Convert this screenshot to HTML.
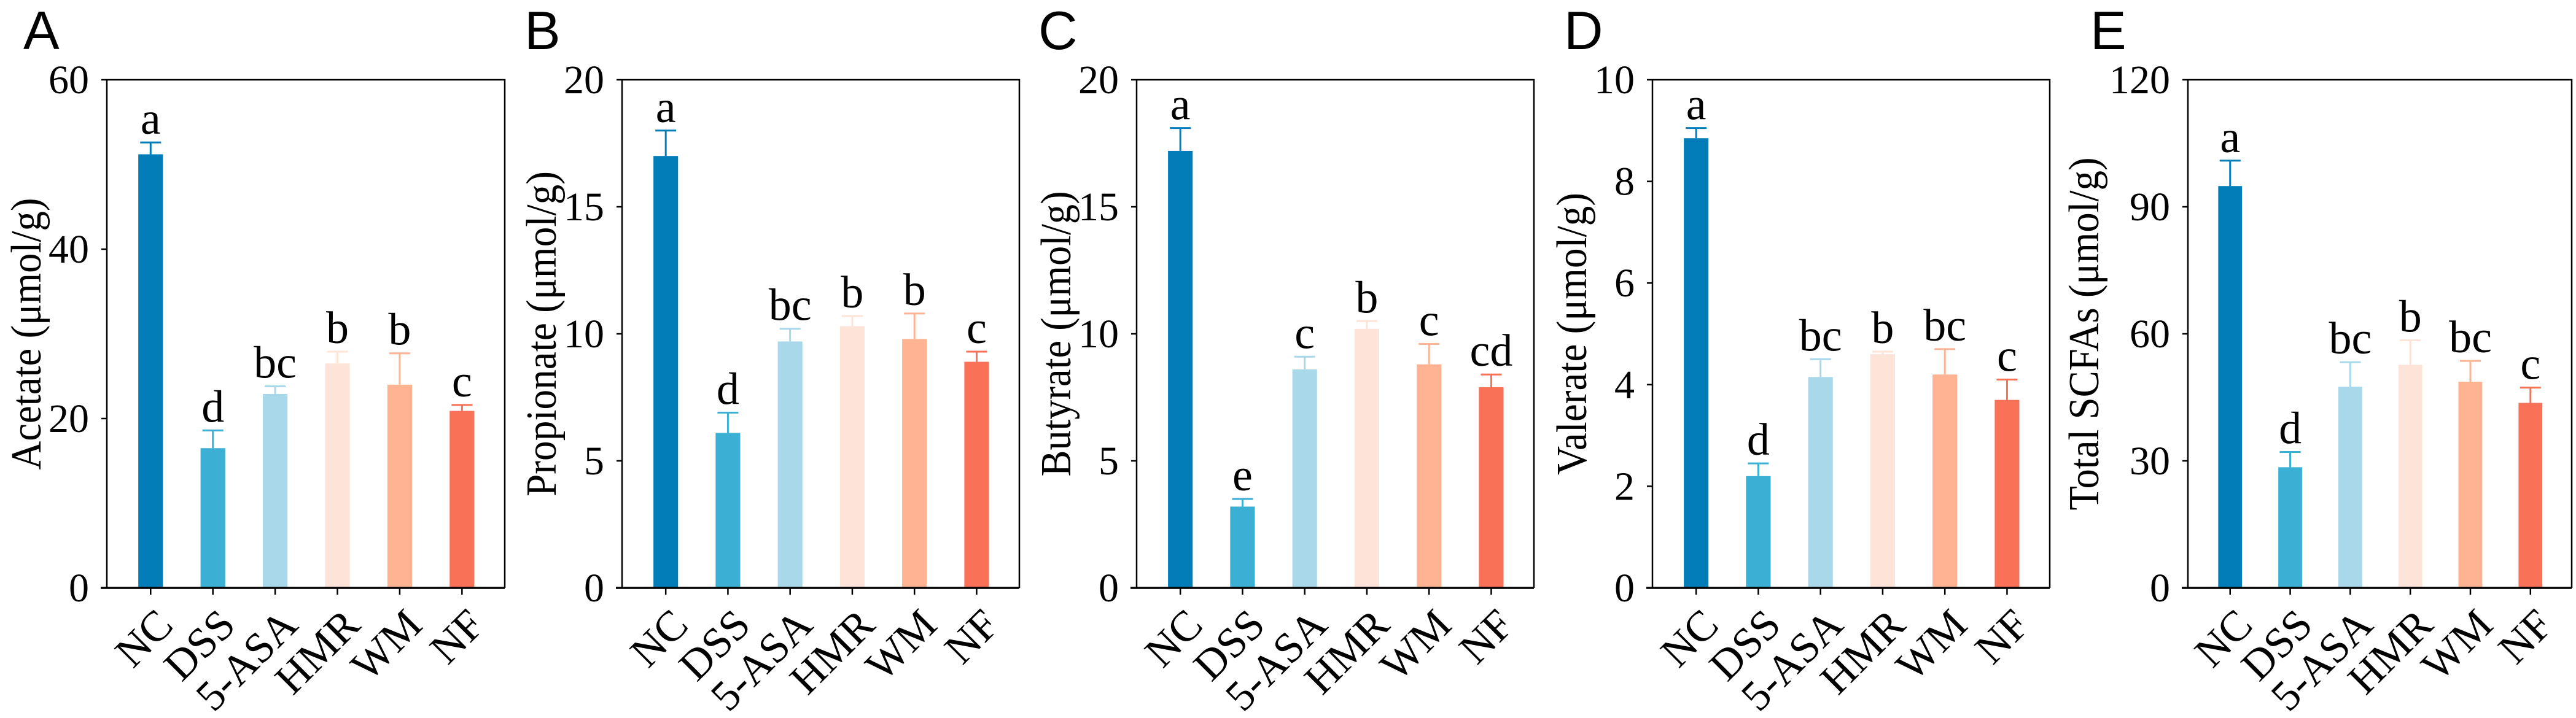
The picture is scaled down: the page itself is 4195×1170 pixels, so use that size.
<!DOCTYPE html>
<html><head><meta charset="utf-8"><style>
html,body{margin:0;padding:0;background:#fff;}
svg{display:block;}
</style></head><body>
<svg id="fig" width="4195" height="1170" viewBox="0 0 4195 1170" xmlns="http://www.w3.org/2000/svg"></svg>
<script>
const categories = ["NC","DSS","5-ASA","HMR","WM","NF"];
const colors = ["#027db8","#3cafd4","#a9d8ea","#fee3d8","#feb393","#f97156"];
const acetateVals = [51.2,16.5,22.9,26.5,24.0,20.9];
const acetateErr = [1.4,2.1,0.9,1.4,3.7,0.7];
const acetateLetters = ["a","d","bc","b","b","c"];
const propionateVals = [17.0,6.1,9.7,10.3,9.8,8.9];
const propionateErr = [1.0,0.8,0.5,0.4,1.0,0.4];
const propionateLetters = ["a","d","bc","b","b","c"];
const butyrateVals = [17.2,3.2,8.6,10.2,8.8,7.9];
const butyrateErr = [0.9,0.3,0.5,0.3,0.8,0.5];
const butyrateLetters = ["a","e","c","b","c","cd"];
const valerateVals = [8.85,2.2,4.15,4.6,4.2,3.7];
const valerateErr = [0.2,0.25,0.35,0.05,0.5,0.4];
const valerateLetters = ["a","d","bc","b","bc","c"];
const totalVals = [94.9,28.5,47.5,52.7,48.7,43.7];
const totalErr = [6.0,3.6,5.8,5.8,4.9,3.6];
const totalLetters = ["a","d","bc","b","bc","c"];
const acetateTicks = [0,20,40,60];
const propionateTicks = [0,5,10,15,20];
const butyrateTicks = [0,5,10,15,20];
const valerateTicks = [0,2,4,6,8,10];
const totalTicks = [0,30,60,90,120];

const panels = [
 {id:"a",letter:"A",left:174,right:822,title:"Acetate (μmol/g)",tl:443,vals:acetateVals,err:acetateErr,letters:acetateLetters,ticks:acetateTicks,lx:38,tx:43},
 {id:"b",letter:"B",left:1013,right:1660,title:"Propionate (μmol/g)",tl:530,vals:propionateVals,err:propionateErr,letters:propionateLetters,ticks:propionateTicks,lx:854,tx:882},
 {id:"c",letter:"C",left:1851,right:2498,title:"Butyrate (μmol/g)",tl:465,vals:butyrateVals,err:butyrateErr,letters:butyrateLetters,ticks:butyrateTicks,lx:1691,tx:1720},
 {id:"d",letter:"D",left:2691,right:3338,title:"Valerate (μmol/g)",tl:460,vals:valerateVals,err:valerateErr,letters:valerateLetters,ticks:valerateTicks,lx:2547,tx:2560},
 {id:"e",letter:"E",left:3563,right:4188,title:"Total SCFAs (μmol/g)",tl:575,vals:totalVals,err:totalErr,letters:totalLetters,ticks:totalTicks,lx:3404,tx:3394}
];
const TOP=130, BOT=958;
const NS="http://www.w3.org/2000/svg";
const svg=document.getElementById("fig");
function mk(tag,attrs,parent){const e=document.createElementNS(NS,tag);for(const k in attrs)e.setAttribute(k,attrs[k]);(parent||svg).appendChild(e);return e;}
const serif='"Liberation Serif", serif';
panels.forEach(p=>{
  const g=mk("g",{});
  
  
  const maxV=p.ticks[p.ticks.length-1];
  const y=v=>BOT-(v/maxV)*(BOT-TOP);
  const w=p.right-p.left;
  const x=i=>p.left+0.11*w+i*0.1565*w;
  const bw=w*0.062;
  const pl=mk("text",{x:p.lx,y:80,"font-family":'"Liberation Sans", sans-serif',"font-size":88},g);
  pl.textContent=p.letter;
  
  
  p.vals.forEach((v,i)=>{
    const c=colors[i];
    const r=mk("rect",{x:x(i)-bw/2,y:y(v),width:bw,height:BOT-y(v),fill:c},g);
    
    
    const et=y(v+p.err[i]);
    const eb=mk("path",{d:`M${x(i)} ${y(v)}V${et}M${x(i)-17} ${et}H${x(i)+17}`,stroke:c,"stroke-width":3,fill:"none"},g);
    
    
    const t=mk("text",{x:x(i),y:et-14,"text-anchor":"middle","font-family":serif,"font-size":74},g);
    t.textContent=p.letters[i];
    
    
    const tk=mk("line",{x1:x(i),x2:x(i),y1:BOT,y2:BOT+11,stroke:"#000","stroke-width":2.5},g);
    
    
    const xl=mk("text",{x:0,y:0,"text-anchor":"end","font-family":serif,"font-size":70,transform:`translate(${x(i)+40},1022) rotate(-45)`},g);
    xl.textContent=categories[i];
    
    
  });
  const fr=mk("path",{d:`M${p.left} ${TOP}H${p.right}V${BOT}M${p.left} ${TOP}V${BOT}`,stroke:"#000","stroke-width":2.5,fill:"none"},g);
  
  
  const xa=mk("line",{x1:p.left-10,x2:p.right,y1:BOT,y2:BOT,stroke:"#000","stroke-width":3.5},g);
  
  
  p.ticks.forEach(t=>{
    const tl=mk("line",{x1:p.left-9,x2:p.left,y1:y(t),y2:y(t),stroke:"#000","stroke-width":2.5},g);
    
    
    const tx=mk("text",{x:p.left-29,y:y(t)+22,"text-anchor":"end","font-family":serif,"font-size":66},g);
    tx.textContent=t;
    
    
  });
  const ti=mk("text",{x:0,y:0,"text-anchor":"middle","font-family":serif,"font-size":70,textLength:p.tl,lengthAdjust:"spacingAndGlyphs",transform:`translate(${p.tx+23},${(TOP+BOT)/2}) rotate(-90)`},g);
  ti.textContent=p.title;
  
  
});
</script>
</body></html>
